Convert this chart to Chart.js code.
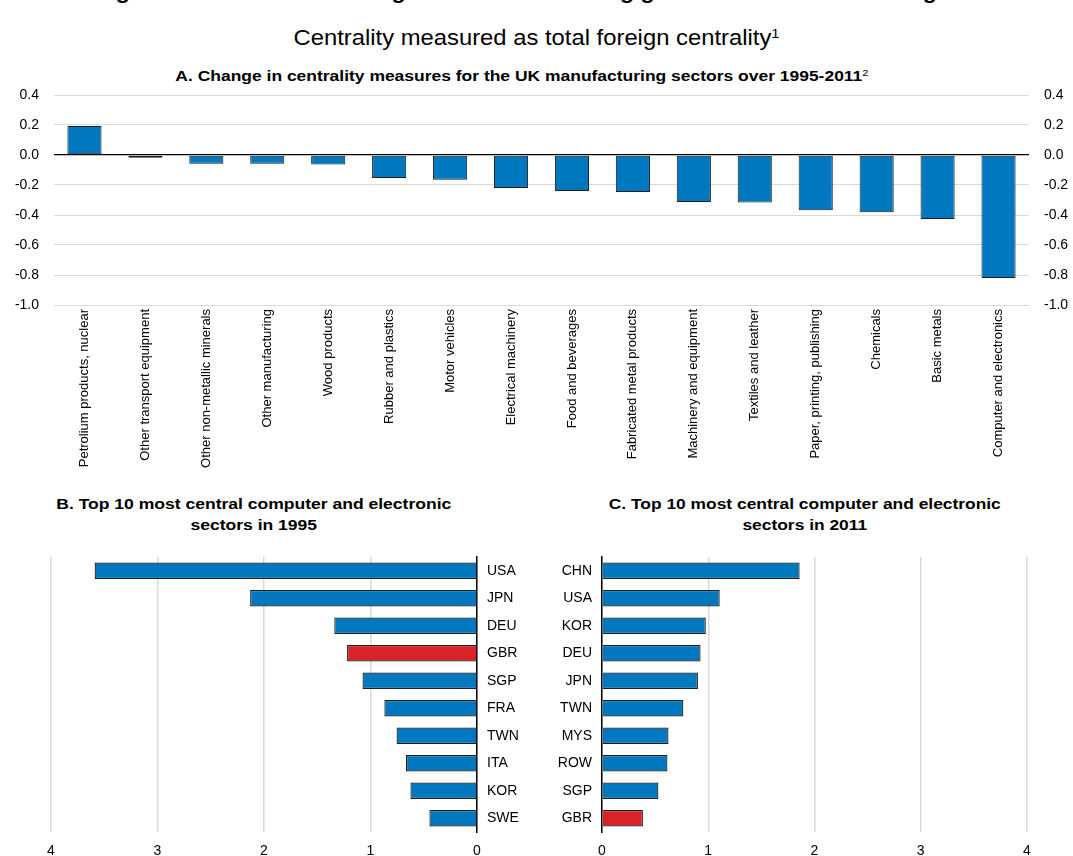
<!DOCTYPE html>
<html>
<head>
<meta charset="utf-8">
<script src="https://cdn.jsdelivr.net/npm/chart.js@4.4.1/dist/chart.umd.min.js"></script>
<style>
  html, body { margin:0; padding:0; background:#fff; width:1073px; height:856px; overflow:hidden; position:relative; }
  body { font-family: 'Liberation Sans', Arial, sans-serif; color:#000; }
  .t { position:absolute; white-space:nowrap; text-align:center; transform-origin:center center; }
  .t sup { font-weight:normal; font-size:0.62em; vertical-align:0.55em; line-height:0; }
  canvas { position:absolute; }
</style>
</head>
<body>
<div id="tMain" class="t" style="top:-19px; font-weight:bold; font-size:20px; line-height:22px;">Figure 1.12. The United Kingdom has been losing ground as a manufacturing hub</div>
<div id="tSub" class="t" style="top:25px; font-size:22px; line-height:26px;">Centrality measured as total foreign centrality<sup>1</sup></div>
<div id="tA" class="t" style="top:68px; font-weight:bold; font-size:14px; line-height:17px;">A. Change in centrality measures for the UK manufacturing sectors over 1995-2011<sup>2</sup></div>
<div id="tB" class="t" style="top:494px; font-weight:bold; font-size:14px; line-height:21px;">B. Top 10 most central computer and electronic<br>sectors in 1995</div>
<div id="tC" class="t" style="top:494px; font-weight:bold; font-size:14px; line-height:21px;">C. Top 10 most central computer and electronic<br>sectors in 2011</div>

<canvas id="cA" width="1073" height="420" style="left:0; top:60px;"></canvas>
<canvas id="cB" width="540" height="326" style="left:0; top:530px;"></canvas>
<canvas id="cC" width="533" height="326" style="left:540px; top:530px;"></canvas>

<script>
// ---------- DATA ----------
const sectors = [
  'Petrolium products, nuclear', 'Other transport equipment', 'Other non-metallic minerals',
  'Other manufacturing', 'Wood products', 'Rubber and plastics', 'Motor vehicles',
  'Electrical machinery', 'Food and beverages', 'Fabricated metal products',
  'Machinery and equipment', 'Textiles and leather', 'Paper, printing, publishing',
  'Chemicals', 'Basic metals', 'Computer and electronics'
];
const centralityChange = [0.193, -0.018, -0.059, -0.059, -0.064, -0.154, -0.165,
  -0.220, -0.240, -0.246, -0.314, -0.316, -0.369, -0.382, -0.426, -0.820];
const yTicksA = [-1.0, -0.8, -0.6, -0.4, -0.2, 0.0, 0.2, 0.4];

const countries1995 = ['USA', 'JPN', 'DEU', 'GBR', 'SGP', 'FRA', 'TWN', 'ITA', 'KOR', 'SWE'];
const values1995 = [3.59, 2.13, 1.34, 1.22, 1.075, 0.87, 0.755, 0.667, 0.625, 0.447];

const countries2011 = ['CHN', 'USA', 'KOR', 'DEU', 'JPN', 'TWN', 'MYS', 'ROW', 'SGP', 'GBR'];
const values2011 = [1.86, 1.108, 0.977, 0.928, 0.903, 0.766, 0.626, 0.616, 0.531, 0.385];
const xTicksBC = [0, 1, 2, 3, 4];

const highlight = 'GBR';

// ---------- STYLE ----------
const BLUE = '#0078BF';
const RED = '#DA2229';
const EDGE = '#1c1c1c';
const GRID = '#d9d9d9';
const FONT = "'Liberation Sans', Arial, sans-serif";
Chart.defaults.font.family = FONT;
Chart.defaults.color = '#000';
Chart.defaults.animation = false;
Chart.defaults.responsive = false;
Chart.defaults.plugins.legend.display = false;
Chart.defaults.plugins.tooltip.enabled = false;

function fmt1(v) { return Math.abs(v) < 1e-9 ? '0.0' : Number(v).toFixed(1); }
const fixedTicks = (vals) => (scale) => { scale.ticks = vals.map(v => ({ value: v })); };

// ---------- PANEL A ----------
new Chart(document.getElementById('cA'), {
  type: 'bar',
  data: {
    labels: sectors,
    datasets: [{
      data: centralityChange,
      backgroundColor: BLUE, borderColor: EDGE, borderWidth: 1, borderSkipped: false,
      barPercentage: 0.56, categoryPercentage: 1.0, yAxisID: 'y'
    }]
  },
  options: {
    layout: { padding: { top: 35, left: 0, right: 0, bottom: 0 } },
    scales: {
      x: {
        offset: true,
        grid: { display: false, drawTicks: false },
        border: { display: false },
        ticks: { autoSkip: false, minRotation: 90, maxRotation: 90, font: { size: 13 }, padding: 4 },
        afterFit: s => { s.height = 175; }
      },
      y: {
        position: 'left', min: -1, max: 0.4,
        afterBuildTicks: fixedTicks(yTicksA),
        grid: { drawTicks: false, color: c => (Math.abs(c.tick.value) < 1e-9 ? '#000' : GRID), lineWidth: c => (Math.abs(c.tick.value) < 1e-9 ? 1.3 : 1) },
        border: { display: false },
        ticks: { callback: fmt1, font: { size: 14 }, padding: 15 },
        afterFit: s => { s.width = 54; }
      },
      y2: {
        position: 'right', min: -1, max: 0.4,
        afterBuildTicks: fixedTicks(yTicksA),
        grid: { display: false, drawTicks: false },
        border: { display: false },
        ticks: { callback: fmt1, font: { size: 14 }, padding: 15 },
        afterFit: s => { s.width = 44; }
      }
    }
  }
});

// ---------- PANELS B & C ----------
function hbar(canvasId, labels, values, side) {
  const colors = labels.map(l => l === highlight ? RED : BLUE);
  const isB = side === 'right';
  return new Chart(document.getElementById(canvasId), {
    type: 'bar',
    data: {
      labels: labels,
      datasets: [{
        data: values, backgroundColor: colors, borderColor: EDGE, borderWidth: 1.2,
        borderSkipped: 'start', barPercentage: 0.6, categoryPercentage: 1.0
      }]
    },
    options: {
      indexAxis: 'y',
      layout: { padding: isB ? { top: 27, left: 51, right: 0, bottom: 0 } : { top: 27, left: 0, right: 46, bottom: 0 } },
      scales: {
        x: {
          min: 0, max: 4, reverse: isB,
          afterBuildTicks: fixedTicks(xTicksBC),
          grid: { drawTicks: false, color: GRID, lineWidth: 1.5 },
          border: { display: false },
          ticks: { font: { size: 14 }, padding: 11 },
          afterFit: s => { s.height = 24; }
        },
        y: {
          position: side,
          grid: { display: false, drawTicks: false },
          border: { display: true, color: '#000', width: 1.5 },
          ticks: { font: { size: 14 }, padding: 10 },
          afterFit: s => { s.width = isB ? 63 : 62; }
        }
      }
    }
  });
}
hbar('cB', countries1995, values1995, 'right');
hbar('cC', countries2011, values2011, 'left');

// ---------- TITLE PLACEMENT ----------
function place(id, cx, targetW) {
  const el = document.getElementById(id);
  el.style.left = '0px';
  const w = el.getBoundingClientRect().width;
  el.style.left = (cx - w / 2) + 'px';
  el.style.transform = 'scaleX(' + (targetW / w) + ')';
}
place('tMain', 540, 890);
place('tSub', 537, 486);
place('tA', 521.5, 693);
place('tB', 254, 395);
place('tC', 805, 392);
</script>
</body>
</html>
